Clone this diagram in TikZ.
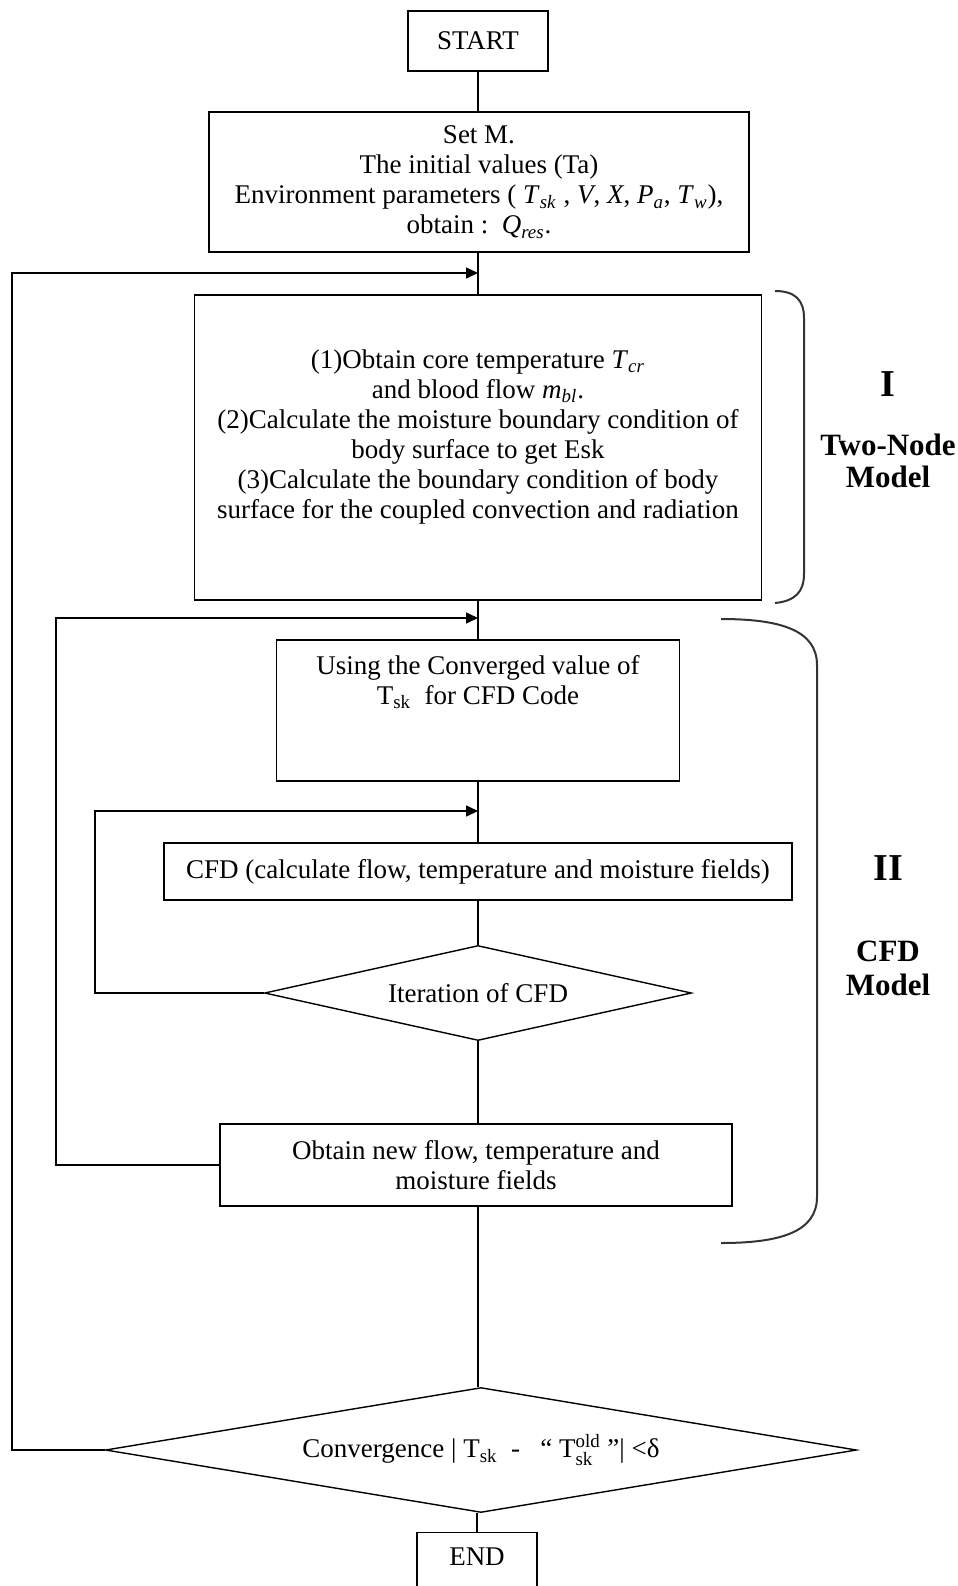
\documentclass[tikz,border=0pt]{standalone}
\usepackage{amsmath}
\usepackage{fontspec}
\setmainfont{Liberation Serif}
\usetikzlibrary{shapes.geometric,arrows.meta}
\newcommand{\itsub}[2]{\textit{#1}\textsubscript{\textit{#2}}}
\begin{document}
\begin{tikzpicture}[x=0.5pt,y=-0.5pt,
  box/.style={draw, line width=0.7pt, inner sep=0pt, align=center, font=\fontsize{13.5}{15}\selectfont},
  txt/.style={align=center, font=\fontsize{13.5}{15}\selectfont, inner sep=0pt},
  dia/.style={draw, diamond, line width=0.7pt, inner sep=0pt, font=\fontsize{13.5}{15}\selectfont},
  conn/.style={line width=0.8pt},
  arr/.style={conn, -{Triangle[length=6pt,width=5.5pt]}},
  lab/.style={font=\fontsize{15.5}{16}\selectfont\bfseries, align=center, inner sep=0pt},
  numlab/.style={font=\fontsize{19}{20}\selectfont\bfseries, inner sep=0pt},
  brace/.style={line width=1pt, black!80}
]
\useasboundingbox (0,0) rectangle (958,1586);

% boxes
\node[box, minimum width=70pt, minimum height=30pt] (start) at (478,41) {START};
\node[box, minimum width=270pt, minimum height=70pt] (setm) at (479,182) {Set M.\\
The initial values (Ta)\\
Environment parameters ( \itsub{T}{sk} , \textit{V}, \textit{X}, \itsub{P}{a}, \itsub{T}{w}),\\
obtain :\ \ \itsub{Q}{res}.};
\node[box, minimum width=283.5pt, minimum height=152.5pt] (twonode) at (478,447.5) {};
\node[txt] (twonodetxt) at (478,437) {(1)Obtain core temperature \itsub{T}{cr}\\
and blood flow \itsub{m}{bl}.\\
(2)Calculate the moisture boundary condition of\\
body surface to get Esk\\
(3)Calculate the boundary condition of body\\
surface for the coupled convection and radiation};
\node[box, minimum width=201.5pt, minimum height=70.5pt] (using) at (478,710.5) {};
\node[txt] (usingtxt) at (478,682) {Using the Converged value of\\
T\textsubscript{sk}\ \ for CFD Code};
\node[box, minimum width=314pt, minimum height=28.5pt] (cfd) at (478,871.5) {CFD (calculate flow, temperature and moisture fields)};
\node[dia, shape aspect=4.5, minimum width=213.5pt, minimum height=47.5pt] (iter) at (478,993) {Iteration of CFD};
\node[box, minimum width=256pt, minimum height=41pt] (obtain) at (476,1165) {Obtain new flow, temperature and\\ moisture fields};
\node[dia, shape aspect=6, minimum width=375.5pt, minimum height=62.5pt] (conv) at (481,1450)
  {Convergence | T\textsubscript{sk}\ \ -\ \ \ “ T$_{\text{sk}}^{\text{old}}$\ ”| <δ};
\node[box, minimum width=60pt, minimum height=34pt, anchor=north] (end) at (477,1532) {};
\node[txt] (endtxt) at (477,1557) {END};

% junction points on the main axis
\coordinate (j1) at (478,273);
\coordinate (j2) at (478,618);
\coordinate (j3) at (478,811);

% main flow
\draw[conn] (start) -- (setm.north -| start);
\draw[conn] (setm.south -| start) -- (twonode);
\draw[conn] (twonode) -- (using);
\draw[conn] (using) -- (cfd);
\draw[conn] (cfd) -- (iter);
\draw[conn] (iter) -- (obtain.north -| iter);
\draw[conn] (obtain.south -| iter) -- (conv.north -| iter);
\draw[conn] (conv.south -| end) -- (end);

% feedback loops
\draw[arr] (conv.west) -- (12,1450) -- (12,273) -- (j1);
\draw[arr] (obtain.west) -- (56,1165) -- (56,618) -- (j2);
\draw[arr] (iter.west) -- (95,993) -- (95,811) -- (j3);

% braces
\draw[brace] (775,291) .. controls (795,291) and (804,300) .. (804,318) -- (804,574)
  .. controls (804,592) and (795,601) .. (775,603);
\draw[brace] (721,619) .. controls (780,619) and (817,630) .. (817,665) -- (817,1197)
  .. controls (817,1232) and (780,1243) .. (721,1243);

% side labels
\node[numlab] (romI) at (888,384) {I};
\node[lab] (twolab) at (888,461) {Two-Node\\Model};
\node[numlab] (romII) at (888,868) {II};
\node[lab] (cfdlab) at (888,968) {CFD\\[1pt]Model};
\end{tikzpicture}
\end{document}
